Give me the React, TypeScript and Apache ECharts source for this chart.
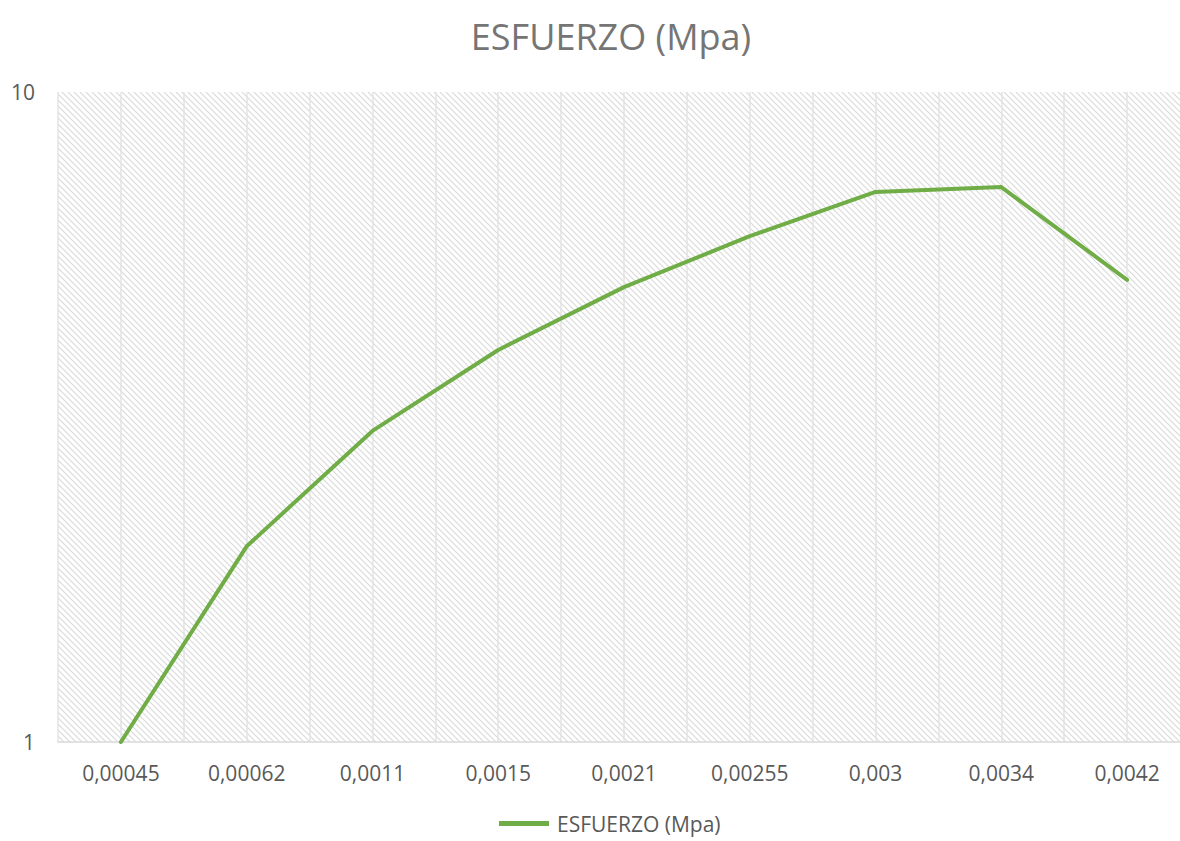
import React, { useEffect, useRef } from "react";
import * as echarts from "echarts";

const categories = ["0,00045", "0,00062", "0,0011", "0,0015", "0,0021", "0,00255", "0,003", "0,0034", "0,0042"];
const esfuerzo = [1.0, 2.0, 3.01, 4.01, 5.01, 6.0, 7.02, 7.14, 5.14];
const seriesName = "ESFUERZO (Mpa)";
const titleText = "ESFUERZO (Mpa)";

function makePattern(): HTMLCanvasElement {
  const c = document.createElement("canvas");
  c.width = 6;
  c.height = 6;
  const ctx = c.getContext("2d")!;
  ctx.fillStyle = "#ffffff";
  ctx.fillRect(0, 0, 6, 6);
  ctx.strokeStyle = "#d9d9d9";
  ctx.lineWidth = 1.1;
  ctx.beginPath();
  ctx.moveTo(-1, -1);
  ctx.lineTo(7, 7);
  ctx.moveTo(-4, 2);
  ctx.lineTo(4, 10);
  ctx.moveTo(2, -4);
  ctx.lineTo(10, 4);
  ctx.stroke();
  return c;
}

export default function App() {
  const ref = useRef<HTMLDivElement>(null);
  useEffect(() => {
    if (!ref.current) return;
    const chart = echarts.init(ref.current, undefined, { renderer: "svg" });
    const font = "'Open Sans', sans-serif";
    chart.setOption({
      animation: false,
      backgroundColor: "#ffffff",
      textStyle: { fontFamily: font },
      title: {
        text: titleText,
        left: 606,
        top: 13,
        textAlign: "center",
        textStyle: { fontFamily: font, fontSize: 36, fontWeight: "normal", color: "#757575" },
      },
      legend: {
        bottom: 2,
        left: 494,
        icon: "path://M0,0 L60,0 L60,6 L0,6 Z",
        itemWidth: 56,
        itemHeight: 5,
        itemGap: 4,
        textStyle: { fontFamily: font, fontSize: 21, color: "#595959" },
        data: [seriesName],
      },
      grid: {
        left: 58,
        top: 92,
        right: 0,
        bottom: 99,
        show: true,
        borderWidth: 0,
        backgroundColor: { image: makePattern(), repeat: "repeat" } as any,
      },
      xAxis: [
        {
          type: "category",
          data: categories,
          boundaryGap: true,
          axisLine: { show: true, lineStyle: { color: "#d9d9d9", width: 1.5 } },
          axisTick: { show: false },
          splitLine: { show: false },
          axisLabel: { fontFamily: font, fontSize: 21, color: "#595959", margin: 20 },
        },
        {
          type: "value",
          min: 0,
          max: 9,
          interval: 0.5,
          show: true,
          position: "bottom",
          axisLine: { show: false },
          axisTick: { show: false },
          axisLabel: { show: false },
          splitLine: { show: true, lineStyle: { color: "#e3e3e3", width: 1.5 } },
        },
      ],
      yAxis: {
        type: "log",
        logBase: 10,
        min: 1,
        max: 10,
        axisLine: { show: false },
        axisTick: { show: false },
        splitLine: { show: false },
        axisLabel: { fontFamily: font, fontSize: 21, color: "#595959", margin: 23 },
      },
      series: [
        {
          name: seriesName,
          type: "line",
          xAxisIndex: 0,
          data: esfuerzo,
          showSymbol: false,
          symbol: "none",
          lineStyle: { color: "#70ad47", width: 4, cap: "round", join: "round" },
          itemStyle: { color: "#70ad47" },
          z: 5,
        },
      ],
    });
    return () => chart.dispose();
  }, []);
  return (
    <div style={{ position: "fixed", left: 0, top: 0, width: 1180, height: 841, overflow: "hidden" }}>
      <div ref={ref} style={{ width: 1190, height: 841 }} />
    </div>
  );
}
